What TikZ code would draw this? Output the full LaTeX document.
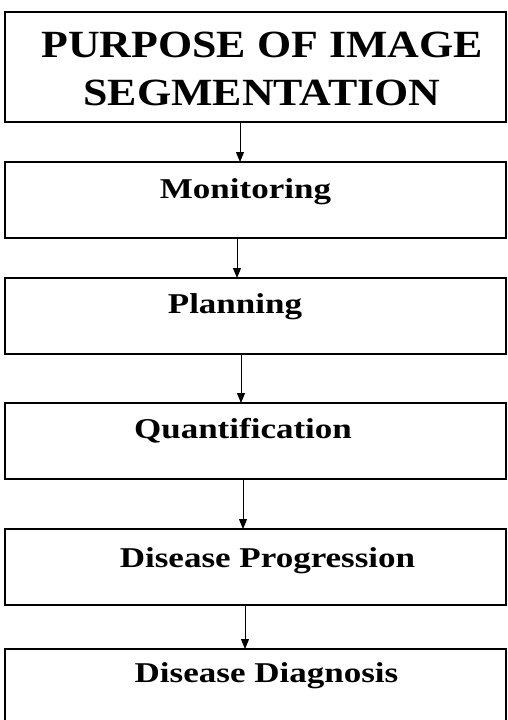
\documentclass[tikz,border=0pt]{standalone}
\usepackage{fontspec}
\setmainfont{Liberation Serif}
\newfontfamily\stepfont{Liberation Serif}[FakeStretch=1.22]
\newfontfamily\headfont{Liberation Serif}[FakeStretch=1.14]
\usetikzlibrary{arrows.meta,positioning}

\begin{document}
\begin{tikzpicture}[x=1pt,y=1pt,
  stage/.style={rectangle, draw, line width=1.2pt, minimum width=501pt, minimum height=76pt, inner sep=0pt, outer sep=0pt},
  stagetext/.style={anchor=base, inner sep=0pt, font=\stepfont\bfseries\fontsize{28.7pt}{30pt}\selectfont},
  headtext/.style={align=center, inner sep=0pt, font=\headfont\bfseries\fontsize{38.5pt}{48.5pt}\selectfont},
  flow/.style={-{Triangle[length=10pt,width=8pt]}, line width=1pt}]
\fill [white] (0,0) rectangle (507,-720);
\useasboundingbox (0,0) rectangle (507,-720);

% boxes
\node [stage, minimum height=110pt] (head) at (255.5,-67) {};
\node [stage, below=40pt of head] (mon) {};
\node [stage, below=40pt of mon] (plan) {};
\node [stage, below=49pt of plan] (quant) {};
\node [stage, below=50pt of quant] (prog) {};
\node [stage, below=44pt of prog] (diag) {};

% texts
\node [headtext] (head-t) at (262,-68.75) {PURPOSE OF IMAGE\\SEGMENTATION};
\node [stagetext] (mon-t) at (245.5,-198) {Monitoring};
\node [stagetext] (plan-t) at (235,-313) {Planning};
\node [stagetext] (quant-t) at (243,-438) {Quantification};
\node [stagetext] (prog-t) at (267.5,-567) {Disease Progression};
\node [stagetext] (diag-t) at (266.5,-682) {Disease Diagnosis};

% arrows
\draw [flow] ([xshift=-15.5pt]head.south) -- ([xshift=-15.5pt]mon.north);
\draw [flow] ([xshift=-18.5pt]mon.south) -- ([xshift=-18.5pt]plan.north);
\draw [flow] ([xshift=-14.5pt]plan.south) -- ([xshift=-14.5pt]quant.north);
\draw [flow] ([xshift=-12.5pt]quant.south) -- ([xshift=-12.5pt]prog.north);
\draw [flow] ([xshift=-10.5pt]prog.south) -- ([xshift=-10.5pt]diag.north);

\end{tikzpicture}
\end{document}
